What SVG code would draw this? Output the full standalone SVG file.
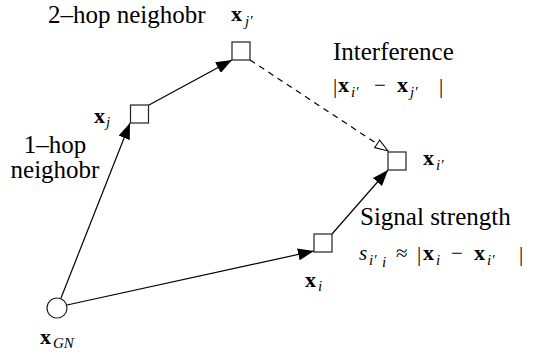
<svg xmlns="http://www.w3.org/2000/svg" width="540" height="356" viewBox="0 0 540 356" font-family="'Liberation Serif', 'Times New Roman', Tinos, 'DejaVu Serif', serif">
<style>
.node{fill:#fff;stroke:#222;stroke-width:1.2}
.edge{stroke:#000;stroke-width:1.2;fill:none}
.dash{stroke-dasharray:6 5}
text{font-family:'Liberation Serif','Times New Roman',Tinos,'DejaVu Serif',serif;fill:#000}
.txt{font-size:25px}
.mt{font-size:21px;opacity:0.99}
.bx{font-size:22px;font-weight:bold;font-style:normal}
.sub{font-size:15px;font-style:italic;font-weight:normal}
.m{font-size:21px;font-style:normal;font-weight:normal}
.mi{font-size:21px;font-style:italic}
</style>
<defs>
<marker id="ah" viewBox="0 0 16 12" refX="16" refY="6" markerWidth="16" markerHeight="12" markerUnits="userSpaceOnUse" orient="auto"><path d="M0,0 L16,6 L0,12 z" fill="#000"/></marker>
<marker id="oh" viewBox="-1 -1 15 11" refX="13" refY="4.5" markerWidth="15" markerHeight="11" markerUnits="userSpaceOnUse" orient="auto"><path d="M0,0 L13,4.5 L0,9 z" fill="#fff" stroke="#000" stroke-width="1"/></marker>
</defs>
<g id="connectors">
<line class="edge" x1="61" y1="298" x2="130" y2="123" marker-end="url(#ah)"/>
<line class="edge" x1="149" y1="105" x2="232" y2="60" marker-end="url(#ah)"/>
<line class="edge" x1="67" y1="305" x2="314" y2="251" marker-end="url(#ah)"/>
<line class="edge" x1="332" y1="234" x2="388" y2="170" marker-end="url(#ah)"/>
<line class="edge dash" x1="250" y1="60" x2="388" y2="151" marker-end="url(#oh)"/>
</g>
<g id="node-gn">
<circle class="node" cx="57" cy="308" r="10"/>
<text class="mt" x="40" y="344"><tspan class="bx">x</tspan><tspan class="sub" x="53" y="348">GN</tspan></text>
</g>
<g id="node-xj">
<rect class="node" x="130.5" y="105" width="18" height="18"/>
<text class="mt" x="94" y="123"><tspan class="bx">x</tspan><tspan class="sub" x="106" y="127">j</tspan></text>
</g>
<g id="node-xjp">
<rect class="node" x="232" y="42" width="18" height="18"/>
<text class="mt" x="231" y="21"><tspan class="bx">x</tspan><tspan class="sub" x="245" y="26">j′</tspan></text>
</g>
<g id="node-xi">
<rect class="node" x="314" y="234" width="18" height="18"/>
<text class="mt" x="305" y="287"><tspan class="bx">x</tspan><tspan class="sub" x="318" y="291">i</tspan></text>
</g>
<g id="node-xip">
<rect class="node" x="388" y="152" width="18" height="18"/>
<text class="mt" x="423" y="165"><tspan class="bx">x</tspan><tspan class="sub" x="436" y="170">i′</tspan></text>
</g>
<g id="labels">
<text class="txt" x="48" y="23">2–hop neighobr</text>
<text class="txt" x="55" y="153" text-anchor="middle">1–hop</text>
<text class="txt" x="55" y="178" text-anchor="middle">neighobr</text>
<text class="txt" x="333" y="60">Interference</text>
<text class="mt" x="333" y="93"><tspan class="m">|</tspan><tspan class="bx" x="338" y="92">x</tspan><tspan class="sub" x="351" y="97">i′</tspan><tspan class="m" x="374" y="92">−</tspan><tspan class="bx" x="397" y="92">x</tspan><tspan class="sub" x="410" y="97">j′</tspan><tspan class="m" x="439" y="93">|</tspan></text>
<text class="txt" x="360" y="225">Signal strength</text>
<text class="mt" x="359" y="260"><tspan class="mi">s</tspan><tspan class="sub" x="369" y="265">i′</tspan><tspan class="sub" x="382" y="267">i</tspan><tspan class="m" x="396" y="260">≈</tspan><tspan class="m" x="417" y="261">|</tspan><tspan class="bx" x="423" y="260">x</tspan><tspan class="sub" x="436" y="265">i</tspan><tspan class="m" x="451" y="260">−</tspan><tspan class="bx" x="474" y="260">x</tspan><tspan class="sub" x="487" y="265">i′</tspan><tspan class="m" x="519" y="261">|</tspan></text>
</g>
</svg>
